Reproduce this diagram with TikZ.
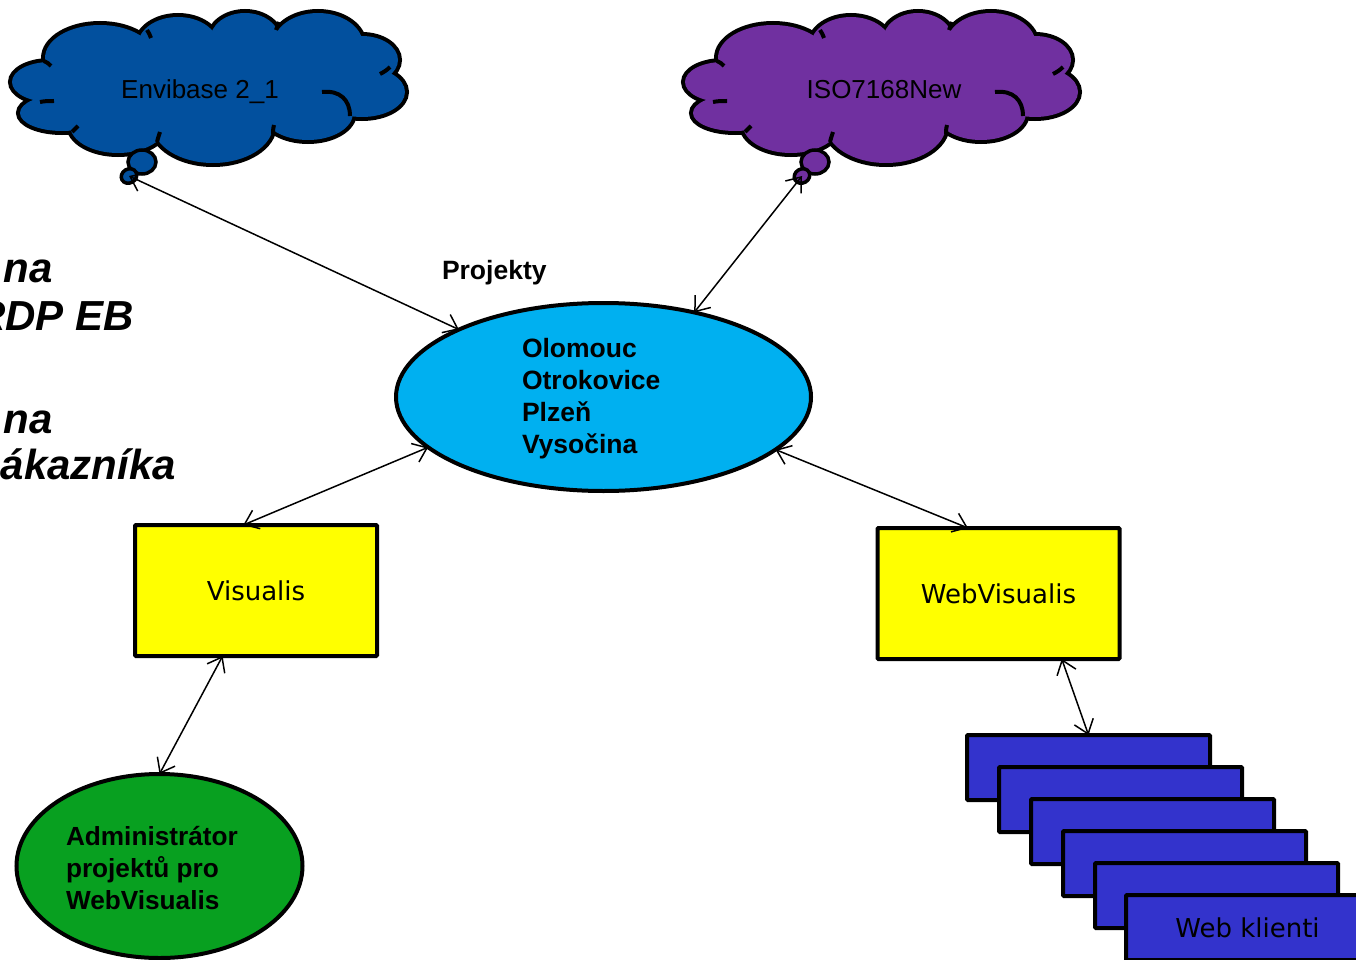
\documentclass[tikz,border=0pt]{standalone}
\usepackage{fontspec}
\setmainfont{Liberation Sans}
\newfontfamily\dejavu{DejaVu Sans}
\usetikzlibrary{arrows.meta,shapes.geometric}
\definecolor{cloudA}{HTML}{02509E}
\definecolor{cloudB}{HTML}{7030A0}
\definecolor{projblue}{HTML}{00B0F0}
\definecolor{boxyellow}{HTML}{FFFF00}
\definecolor{admgreen}{HTML}{08A020}
\definecolor{clientblue}{HTML}{3333CC}
\def\puffs{50/82/38/20, 62/113/42/18, 100/58/55/33, 178/45/40/28, 245/40/35/27, 318/45/45/32, 362/60/36/24, 362/92/43/25, 308/113/45/27, 213/125/60/38, 118/125/48/28, 210/88/150/45}
\newcommand\drawmycloud[2]{%
  \begin{scope}[shift={(#1,0)}]
    \foreach \cx/\cy/\rx/\ry in \puffs {\draw[line width=8pt] (\cx,\cy) ellipse [x radius=\rx pt, y radius=\ry pt];}
    \foreach \cx/\cy/\rx/\ry in \puffs {\fill[#2] (\cx,\cy) ellipse [x radius=\rx pt, y radius=\ry pt];}
    \draw[line width=4pt] (322,92) .. controls (340,90) and (350,100) .. (350,116);
    \draw[line width=4pt] (147,30) .. controls (149,33) and (150,35) .. (151,38);
    \draw[line width=4pt] (279,22) .. controls (278,25) and (277,27) .. (276,30);
    \draw[line width=4pt] (44,61) .. controls (47,62) and (49,64) .. (51,66);
    \draw[line width=4pt] (54,101) .. controls (48,101) and (45,101) .. (40,102);
    \draw[line width=4pt] (380,74) .. controls (384,72) and (387,70) .. (390,67);
    \draw[line width=4pt] (72,132) .. controls (74,130) and (76,128) .. (78,126);
    \draw[line width=4pt] (157,142) .. controls (158,138) and (159,135) .. (160,132);
    \draw[line width=4pt] (273,134) .. controls (273,131) and (273,129) .. (274,125);
  \end{scope}}
\begin{document}
\begin{tikzpicture}[x=1pt,y=-1pt,
  conn/.style={{Straight Barb[length=13pt,width=20pt]}-{Straight Barb[length=13pt,width=20pt]}, line width=1.5pt},
  boxnode/.style={draw, line width=4pt, rounded corners=1pt, fill=boxyellow, minimum width=242pt, minimum height=131pt, inner sep=0pt, outer sep=0pt, font=\dejavu\fontsize{26}{32}\selectfont},
  clientbox/.style={draw, line width=4pt, rounded corners=1pt, fill=clientblue, minimum width=243pt, minimum height=65pt, inner sep=0pt, outer sep=0pt, font=\dejavu\fontsize{26}{32}\selectfont},
  boldtext/.style={font=\fontsize{26.5}{32}\selectfont\bfseries, inner sep=0pt, outer sep=0pt, align=left},
  sidetext/.style={font=\fontsize{42}{48}\selectfont\bfseries\itshape, inner sep=0pt, outer sep=0pt},
  cloudtext/.style={font=\fontsize{26}{30}\selectfont, inner sep=0pt, outer sep=0pt},
  bubble/.style={ellipse, draw, line width=3.5pt, inner sep=0pt, outer sep=0pt}]
\useasboundingbox (0,0) rectangle (1356,960);
\fill[white] (0,0) rectangle (1356,960);

% clouds
\drawmycloud{0}{cloudA}
\drawmycloud{673}{cloudB}
\node[bubble, fill=cloudA, minimum width=28pt, minimum height=24pt] (eb1) at (142,162) {};
\node[bubble, fill=cloudA, minimum width=16pt, minimum height=14pt, rotate=30] (etail) at (129,176) {};
\node[bubble, fill=cloudB, minimum width=28pt, minimum height=24pt] (ib1) at (815,162) {};
\node[bubble, fill=cloudB, minimum width=16pt, minimum height=14pt, rotate=30] (itail) at (802,176) {};
\node[cloudtext, anchor=base] (envi) at (200,99) {Envibase 2\_1};
\node[cloudtext, anchor=base] (iso) at (884,99) {ISO7168New};

% side text
\node[sidetext, anchor=base east] (s1) at (53,282) {na};
\node[sidetext, anchor=base east] (s2) at (134,330) {RDP EB};
\node[sidetext, anchor=base east] (s3) at (53,433) {na};
\node[sidetext, anchor=base east] (s4) at (176,479) {ákazníka};

% projects ellipse
\node[ellipse, draw, line width=4pt, fill=projblue, minimum width=415pt, minimum height=188pt, inner sep=0pt, outer sep=0pt] (proj) at (603.5,397) {};
\node[boldtext, anchor=north west] (projtxt) at (522,338.5) {Olomouc\\Otrokovice\\Plzeň\\Vysočina};
\node[boldtext, anchor=base west] (projlbl) at (442,279) {Projekty};

% boxes
\node[boxnode] (vis) at (256,590.5) {Visualis};
\node[boxnode] (webvis) at (998.5,593.5) {WebVisualis};

% admin ellipse
\node[ellipse, draw, line width=4pt, fill=admgreen, minimum width=286pt, minimum height=184pt, inner sep=0pt, outer sep=0pt] (adm) at (159.5,866) {};
\node[boldtext, anchor=north west, font=\fontsize{26.2}{32}\selectfont\bfseries] (admtxt) at (66,826) {Administrátor\\projektů pro\\WebVisualis};

% web clients stack
\node[clientbox] (wk1) at (1088.5,767.5) {};
\node[clientbox] (wk2) at (1120.5,799.5) {};
\node[clientbox] (wk3) at (1152.5,831.5) {};
\node[clientbox] (wk4) at (1184.5,863.5) {};
\node[clientbox] (wk5) at (1216.5,895.5) {};
\node[clientbox] (wk6) at (1247.5,927.5) {Web klienti};

% connectors
\draw[conn] (etail.center) -- (proj.155.6);
\draw[conn] (itail.center) -- (proj.43.8);
\draw[conn] (proj.196.9) -- (vis.101.9);
\draw[conn] (proj.343.3) -- (webvis.115);
\draw[conn] (vis.243.3) -- (adm.north);
\draw[conn] (webvis.314.1) -- (wk1.north);
\end{tikzpicture}
\end{document}
